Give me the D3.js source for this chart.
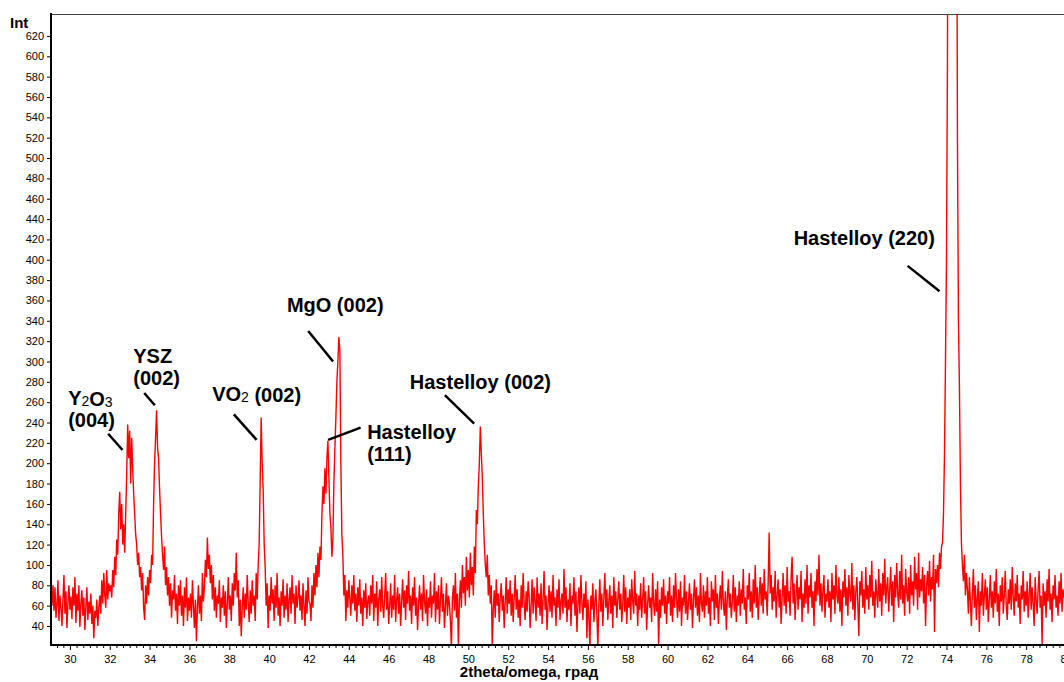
<!DOCTYPE html>
<html>
<head>
<meta charset="utf-8">
<script src="https://cdn.jsdelivr.net/npm/d3@7"></script>
<style>
    body { margin: 0; background: #fff; }
    svg { display: block; font-family: "Liberation Sans", Arial, sans-serif; }
</style>
</head>
<body>
<div id="chart"></div>
<script>
// diffractometer scan step, degrees 2theta
const scanStep = 0.05

// counts, one array per segment, named by start angle
const counts_29_10 = [
    60, 80, 55, 78, 48, 62, 85, 45, 70, 58,
    40, 66, 90, 52, 74, 38, 63, 80, 56, 69,
    47, 78, 60, 88, 43, 72, 55, 80, 39, 62,
    75, 50, 68, 36, 59, 78, 46, 64, 52, 72,
    42, 60, 28, 55, 48, 66, 40, 58, 70, 52,
    85, 62, 92, 70, 58, 95, 66, 82, 74]
const counts_32_05 = [
    80, 68, 95, 78, 108, 90, 125, 110, 150, 172,
    135, 160, 120, 140, 112, 150, 190, 238, 205, 232,
    180, 225, 195, 170, 150, 130, 120, 100, 112, 88,
    98, 75, 92, 58, 46, 80, 62, 88, 70, 95,
    82, 110, 100, 160, 200, 225, 252, 215, 205, 175,
    150, 128, 110, 95, 118, 80, 98, 70, 88, 60,
    82, 48, 75, 66, 90, 55, 72, 42, 80, 60,
    85, 50, 70, 40, 78, 58, 88, 45, 68, 55]
const counts_36_05 = [
    72, 48, 85, 60, 38, 66, 25, 58, 80, 52,
    70, 45, 92, 64, 78, 105, 88, 127, 96, 110,
    82, 100, 66, 90, 55, 78, 48, 70, 62, 85,
    44, 68, 58, 80, 50, 74, 38, 62, 88, 56,
    70, 45, 82, 60, 92, 75, 112, 68, 85, 40,
    66, 30, 58, 78, 48, 72, 56, 90, 62, 44,
    75, 52, 85, 60, 70, 45, 92, 66, 100, 121,
    183, 245, 200, 174, 121, 98, 60, 82, 38, 70,
    55, 88, 62, 76, 45, 80, 58, 92, 50, 68,
    40, 74, 60, 86, 48, 70, 56, 82, 44, 66,
    78, 52, 90, 62, 72, 42, 80, 58, 68, 85,
    55, 70, 46, 82, 60, 40, 75, 52, 88, 64]
const counts_42_05 = [
    62, 45, 80, 58, 92, 70, 100, 78, 112, 88,
    118, 105, 150, 177, 160, 195, 170, 205, 222, 185,
    150, 137, 108, 125, 180, 215, 245, 280, 300, 324,
    311, 200, 130, 110, 70, 90, 45, 75, 58, 85,
    66, 50, 80, 62, 90, 55, 72, 44, 78, 60,
    86, 52, 68, 40, 75, 58, 82, 47, 64, 70,
    50, 80, 62, 90, 45, 72, 58, 84, 40, 66,
    76, 54, 88, 60, 48, 70, 92, 56, 74, 42]
const counts_46_05 = [
    60, 82, 48, 70, 56, 90, 44, 66, 78, 52,
    72, 40, 64, 86, 58, 75, 46, 80, 62, 94,
    55, 70, 42, 78, 60, 88, 50, 68, 36, 62,
    80, 56, 72, 45, 90, 64, 52, 76, 40, 68,
    58, 84, 48, 70, 62, 92, 44, 74, 56, 80,
    42, 66, 88, 54, 72, 38, 60, 82, 50, 70,
    62, 45, 18, 68, 80, 55, 92, 48, 72, 20,
    66, 85, 58, 100, 72, 88, 60, 108, 75, 95,
    68, 112, 80, 98, 70, 118, 92, 154, 140, 177,
    200, 236, 210, 186, 150, 121, 100, 88, 110, 70,
    90, 62, 80, 18, 58, 75, 48, 86, 60, 72,
    44, 68, 82, 55, 70, 38, 64, 88, 52, 76]
const counts_52_05 = [
    62, 85, 50, 72, 44, 68, 90, 56, 76, 48,
    66, 40, 80, 58, 92, 62, 46, 74, 54, 84,
    70, 38, 60, 86, 52, 78, 64, 45, 88, 58,
    72, 50, 82, 42, 66, 94, 56, 70, 36, 62,
    80, 54, 74, 48, 90, 60, 68, 40, 76, 58,
    86, 46, 64, 72, 52, 96, 58, 78, 44, 66,
    56, 82, 40, 70, 62, 88, 50, 74, 34, 60,
    78, 52, 90, 64, 46, 72, 58, 84, 28, 66,
    48, 18, 70, 56, 82, 44, 64, 76, 52, 20,
    62, 86, 54, 72, 40, 68, 92, 58, 76, 46,
    64, 80, 52, 70, 38, 88, 60, 74, 48, 66,
    84, 56, 72, 44, 62, 90, 54, 78, 42, 68,
    58, 76, 46, 86, 64, 52, 94, 60, 72, 40,
    70, 56, 82, 48, 66, 88, 52, 74, 36, 62,
    80, 58, 68, 44, 92, 62, 50, 76, 54, 84,
    20, 66, 48, 78, 60, 86, 52, 70, 42, 74]
const counts_60_05 = [
    62, 88, 50, 70, 44, 80, 58, 92, 66, 48,
    76, 54, 84, 40, 68, 60, 90, 52, 74, 46,
    64, 82, 56, 72, 38, 66, 86, 58, 78, 50,
    70, 44, 92, 62, 54, 80, 48, 74, 60, 88,
    52, 68, 40, 84, 64, 76, 46, 90, 58, 72,
    42, 66, 80, 56, 94, 62, 50, 74, 36, 68,
    86, 58, 72, 48, 64, 90, 54, 78, 44, 70,
    60, 84, 50, 76, 62, 96, 56, 68, 42, 80,
    66, 92, 54, 74, 48, 86, 62, 100, 58, 78,
    46, 70, 88, 60, 82, 52, 96, 66, 74, 50,
    84, 132, 72, 90, 56, 78, 64, 94, 48, 70,
    86, 58, 76, 42, 68, 92, 60, 80, 52, 98,
    64, 74, 50, 88, 108, 62, 82, 46, 70, 90,
    56, 78, 66, 94, 44, 72, 58, 86, 62, 100,
    52, 80, 68, 92, 58, 74, 40, 84, 64, 96,
    70, 110, 60, 82, 54, 76, 90, 48, 72, 64]
const counts_68_05 = [
    86, 58, 74, 44, 92, 66, 80, 52, 100, 70,
    62, 88, 54, 76, 40, 84, 68, 96, 60, 78,
    50, 90, 72, 64, 102, 56, 80, 46, 74, 88,
    62, 30, 84, 70, 94, 58, 76, 52, 98, 66,
    80, 56, 90, 68, 104, 60, 74, 48, 86, 72,
    58, 96, 64, 82, 50, 92, 70, 106, 62, 78,
    88, 54, 76, 98, 60, 84, 44, 90, 68, 102,
    72, 58, 94, 66, 110, 62, 80, 50, 96, 74,
    64, 88, 52, 100, 70, 84, 60, 108, 76, 92,
    56, 112, 68, 86, 74, 98, 62, 90, 40, 80,
    94, 70, 104, 64, 88, 76, 110, 34, 96, 82,
    100, 78, 112]
const counts_73_70 = [
    96, 118, 122, 150, 210, 300, 400, 600, 1200, 1800,
    2400, 2800, 2900, 2700, 2200, 1500, 900, 520, 340, 275,
    180, 122, 100, 84, 110, 70, 92]
const counts_75_05 = [
    76, 52, 88, 64, 40, 72, 96, 58, 80, 46,
    68, 84, 34, 74, 60, 92, 50, 70, 86, 56,
    78, 44, 66, 90, 58, 74, 48, 84, 62, 96,
    54, 72, 40, 80, 64, 88, 52, 70, 94, 60,
    46, 76, 62, 86, 56, 98, 68, 50, 82, 64,
    90, 58, 72, 42, 80, 66, 94, 54, 74, 60,
    84, 48, 70, 92, 56, 78, 62, 40, 88, 66,
    52, 76, 94, 58, 70, 22, 82, 60, 74, 48,
    86, 64, 96, 56, 72, 44, 80, 66, 90, 58,
    70, 50, 84, 62, 92, 54, 76, 68]

const segments = [
    [29.10, counts_29_10], [32.05, counts_32_05], [36.05, counts_36_05],
    [42.05, counts_42_05], [46.05, counts_46_05], [52.05, counts_52_05],
    [60.05, counts_60_05], [68.05, counts_68_05], [73.70, counts_73_70],
    [75.05, counts_75_05]
]

const xTicks = d3.range(30, 82, 2)
const yTicks = d3.range(40, 640, 20)

// peak labels, anchored in data coordinates: [angle, intensity]
const peakLabels = [
    {lines: [["Y", "2", "O", "3"], ["(004)"]], at: [29.91, 257], lead: [[31.92, 229], [32.64, 213]]},
    {lines: [["YSZ"], ["(002)"]], at: [33.18, 299], lead: [[33.73, 269], [34.26, 257]]},
    {lines: [["VO", "2", " (002)"]], at: [37.14, 261], lead: [[38.23, 248], [39.37, 223]]},
    {lines: [["MgO (002)"]], at: [40.89, 349], lead: [[41.96, 330], [43.21, 300]]},
    {lines: [["Hastelloy"], ["(111)"]], at: [44.92, 224], lead: [[42.96, 223], [44.59, 235]]},
    {lines: [["Hastelloy (002)"]], at: [47.06, 273], lead: [[48.82, 267], [50.29, 239]]},
    {lines: [["Hastelloy (220)"]], at: [66.33, 415], lead: [[72.05, 394], [73.65, 369]]}
]

const width = 1064, height = 682
const plot = {left: 52, top: 14, bottom: 645}

const svg = d3.select("#chart")
    .append("svg")
    .attr("width", width)
    .attr("height", height)

const x = d3.scaleLinear().domain([29.1, 80.2]).range([plot.left, 1070])
const y = d3.scaleLinear().domain([21.3, 641.6]).range([plot.bottom, plot.top])

// flatten the scan segments into points
let points = []
segments.forEach(function (seg) {
    seg[1].forEach(function (c, i) {
        points.push({angle: seg[0] + i * scanStep, count: c})
    })
})

svg.append("clipPath")
    .attr("id", "plotclip")
    .append("rect")
    .attr("x", plot.left)
    .attr("y", plot.top)
    .attr("width", width - plot.left)
    .attr("height", plot.bottom - plot.top - 1)

// top frame line
svg.append("line")
    .attr("x1", plot.left).attr("x2", width)
    .attr("y1", plot.top + 0.5).attr("y2", plot.top + 0.5)
    .attr("stroke", "#444")
    .attr("stroke-width", 1)

const line = d3.line()
    .x(d => x(d.angle))
    .y(d => y(d.count))

svg.append("path")
    .datum(points)
    .attr("clip-path", "url(#plotclip)")
    .attr("fill", "none")
    .attr("stroke", "#ff0000")
    .attr("stroke-width", 1.4)
    .attr("d", line)

// y axis, major + minor ticks
const yAxis = svg.append("g")
    .attr("transform", "translate(" + plot.left + ",0)")
    .call(d3.axisLeft(y).tickValues(yTicks).tickSize(5).tickPadding(3))
yAxis.select(".domain").remove()
yAxis.selectAll("text").style("font-size", "11px").attr("fill", "#000")

const yMinor = d3.range(25, 641, 5).filter(v => v % 20 != 0)
svg.append("g")
    .attr("transform", "translate(" + plot.left + ",0)")
    .call(d3.axisLeft(y).tickValues(yMinor).tickSize(2).tickFormat(""))
    .select(".domain").remove()

// x axis
const xAxis = svg.append("g")
    .attr("transform", "translate(0," + plot.bottom + ")")
    .call(d3.axisBottom(x).tickValues(xTicks).tickSize(5).tickPadding(5))
xAxis.select(".domain").remove()
xAxis.selectAll("text").style("font-size", "11px").attr("fill", "#000")

let xMinor = []
xTicks.forEach(function (t) {
    for (let j = 1; j < 6; j++) xMinor.push(t + j / 3)
})
xMinor.push(29.35, 29.67)
svg.append("g")
    .attr("transform", "translate(0," + plot.bottom + ")")
    .call(d3.axisBottom(x).tickValues(xMinor).tickSize(3).tickFormat(""))
    .select(".domain").remove()

// heavy axis lines
svg.append("line")
    .attr("x1", plot.left - 1).attr("x2", plot.left - 1)
    .attr("y1", plot.top - 1).attr("y2", plot.bottom + 1)
    .attr("stroke", "#000").attr("stroke-width", 2)
svg.append("line")
    .attr("x1", plot.left - 2).attr("x2", width)
    .attr("y1", plot.bottom).attr("y2", plot.bottom)
    .attr("stroke", "#000").attr("stroke-width", 2)

// axis titles
svg.append("text")
    .attr("x", 10).attr("y", 28)
    .style("font-size", "15px").style("font-weight", "bold")
    .text("Int")
svg.append("text")
    .attr("x", 529).attr("y", 677)
    .attr("text-anchor", "middle")
    .style("font-size", "15px").style("font-weight", "bold")
    .text("2theta/omega, град")

// peak annotations
peakLabels.forEach(function (p) {
    svg.append("line")
        .attr("x1", x(p.lead[0][0])).attr("y1", y(p.lead[0][1]))
        .attr("x2", x(p.lead[1][0])).attr("y2", y(p.lead[1][1]))
        .attr("stroke", "#000").attr("stroke-width", 2.5)

    p.lines.forEach(function (parts, k) {
        let t = svg.append("text")
            .attr("x", x(p.at[0]))
            .attr("y", y(p.at[1]) + k * 22)
            .style("font-size", "20px").style("font-weight", "bold")
        parts.forEach(function (s) {
            // single digits after a letter are subscripts
            if (/^\d$/.test(s)) {
                t.append("tspan").style("font-size", "14px").style("font-weight", "normal").attr("dy", 1).text(s)
                t.append("tspan").attr("dy", -1).text("")
            } else {
                t.append("tspan").text(s)
            }
        })
    })
})
</script>
</body>
</html>
